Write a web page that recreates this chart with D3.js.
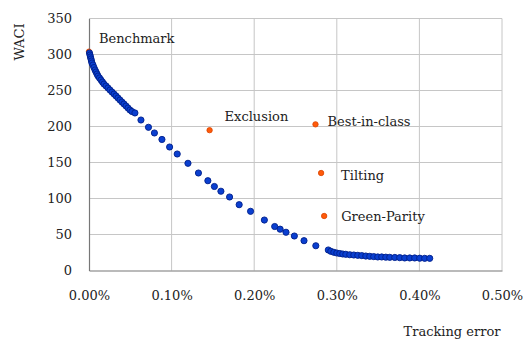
<!DOCTYPE html>
<html>
<head>
<meta charset="utf-8">
<script src="https://cdn.jsdelivr.net/npm/d3@7"></script>
<style>
  html, body { margin: 0; padding: 0; background: #fff; }
  svg text { font-family: "DejaVu Serif", "Liberation Serif", serif; fill: #222; }
</style>
</head>
<body>
<svg id="chart" width="530" height="355"></svg>
<script>
// ---- Data (tracking error in %, WACI) ----
const frontierTE = [
  0.0006, 0.0012, 0.0018, 0.0024, 0.0030, 0.0036, 0.0048, 0.0060, 0.0073, 0.0085,
  0.0097, 0.0109, 0.0127, 0.0145, 0.0163, 0.0181, 0.0206, 0.0230, 0.0254, 0.0278,
  0.0303, 0.0327, 0.0351, 0.0375, 0.0399, 0.0423, 0.0448, 0.0472, 0.0496, 0.0520,
  0.0556, 0.0629, 0.0720, 0.0792, 0.0883, 0.0976, 0.1068, 0.1198, 0.1325, 0.1439,
  0.1518, 0.1597, 0.1702, 0.1818, 0.1956, 0.2123, 0.2248, 0.2314, 0.2385, 0.2486,
  0.2603, 0.2746, 0.2897, 0.2927, 0.2964, 0.3000, 0.3036, 0.3072, 0.3109, 0.3157,
  0.3206, 0.3254, 0.3302, 0.3351, 0.3399, 0.3447, 0.3496, 0.3544, 0.3593, 0.3641,
  0.3702, 0.3762, 0.3822, 0.3883, 0.3943, 0.4004, 0.4064, 0.4125
];
const frontierWACI = [
  302.1, 299.3, 296.5, 293.8, 291.0, 288.2, 285.4, 281.9, 278.5, 275.7,
  272.9, 270.1, 267.4, 264.6, 261.8, 259.0, 256.3, 253.5, 250.7, 247.9,
  245.1, 242.4, 239.6, 236.8, 234.0, 231.3, 228.5, 225.7, 222.9, 220.8,
  218.8, 209.0, 198.9, 191.0, 182.0, 171.5, 161.8, 148.9, 135.4, 124.7,
  116.7, 110.1, 102.1, 91.4, 82.2, 70.1, 61.1, 57.4, 53.1, 47.9,
  41.4, 34.4, 28.5, 26.7, 25.3, 24.3, 23.6, 22.9, 22.5, 21.9,
  21.5, 21.1, 20.7, 20.1, 19.7, 19.3, 18.8, 18.8, 18.5, 18.3,
  18.1, 17.8, 17.4, 17.4, 17.4, 17.1, 16.9, 16.9
];

const strategyNames = ["Benchmark", "Exclusion", "Best-in-class", "Tilting", "Green-Parity"];
const strategyTE    = [0.000, 0.146, 0.2742, 0.281, 0.2847];
const strategyWACI  = [304.0, 194.9, 203.0, 135.4, 75.7];

const xTicks = [0, 0.1, 0.2, 0.3, 0.4, 0.5];
const yTicks = [0, 50, 100, 150, 200, 250, 300, 350];

// ---- Layout ----
const W = 530, H = 355;
const margin = { left: 89, right: 28, top: 18.5, bottom: 84.5 };
const labelOffsets = [[10, -9], [15, -9.5], [12, 2], [20, 6.5], [17, 5]];

const svg = d3.select("#chart");
const x = d3.scaleLinear().domain([0, 0.5]).range([margin.left, W - margin.right]);
const y = d3.scaleLinear().domain([0, 350]).range([H - margin.bottom, margin.top]);

// gridlines
const grid = svg.append("g");
grid.selectAll("line.h").data(yTicks.filter(d => d > 0)).join("line")
  .attr("x1", x(0)).attr("x2", x(0.5))
  .attr("y1", d => y(d)).attr("y2", d => y(d))
  .attr("stroke", "#c6c6c6").attr("stroke-width", 1);
grid.selectAll("line.v").data(xTicks.filter(d => d > 0)).join("line")
  .attr("y1", y(0)).attr("y2", y(350))
  .attr("x1", d => x(d)).attr("x2", d => x(d))
  .attr("stroke", "#c6c6c6").attr("stroke-width", 1);

// axes
const xAxis = d3.axisBottom(x).tickValues(xTicks).tickSize(0).tickPadding(20)
  .tickFormat(d => d.toFixed(2) + "%");
const gx = svg.append("g").attr("transform", `translate(0,${y(0)})`).call(xAxis);
gx.select(".domain").attr("stroke", "#777").attr("stroke-width", 1.2);
gx.selectAll("text").attr("font-size", 13).attr("fill", "#333")
  .style("font-family", '"DejaVu Serif", serif');

const yAxis = d3.axisLeft(y).tickValues(yTicks).tickSize(0).tickPadding(17);
const gy = svg.append("g").attr("transform", `translate(${x(0)},0)`).call(yAxis);
gy.select(".domain").attr("stroke", "#777").attr("stroke-width", 1.2);
gy.selectAll("text").attr("font-size", 13).attr("fill", "#333")
  .style("font-family", '"DejaVu Serif", serif');

// axis titles
svg.append("text").attr("x", 452).attr("y", 336).attr("text-anchor", "middle")
  .attr("font-size", 13).text("Tracking error");
svg.append("text").attr("transform", "translate(24,42) rotate(-90)")
  .attr("text-anchor", "middle").attr("font-size", 13).text("WACI");

// strategy points
svg.append("g").selectAll("circle").data(strategyNames).join("circle")
  .attr("cx", (d, i) => x(strategyTE[i]))
  .attr("cy", (d, i) => y(strategyWACI[i]))
  .attr("r", 2.7)
  .attr("fill", "#ff5a0a").attr("stroke", "#d94400").attr("stroke-width", 0.8);

// frontier points
svg.append("g").selectAll("circle").data(frontierTE).join("circle")
  .attr("cx", d => x(d))
  .attr("cy", (d, i) => y(frontierWACI[i]))
  .attr("r", 3.1)
  .attr("fill", "#0a3fd0").attr("stroke", "#001f8a").attr("stroke-width", 0.9);

// labels
svg.append("g").selectAll("text").data(strategyNames).join("text")
  .attr("x", (d, i) => x(strategyTE[i]) + labelOffsets[i][0])
  .attr("y", (d, i) => y(strategyWACI[i]) + labelOffsets[i][1])
  .attr("font-size", 13).text(d => d);
</script>
</body>
</html>
